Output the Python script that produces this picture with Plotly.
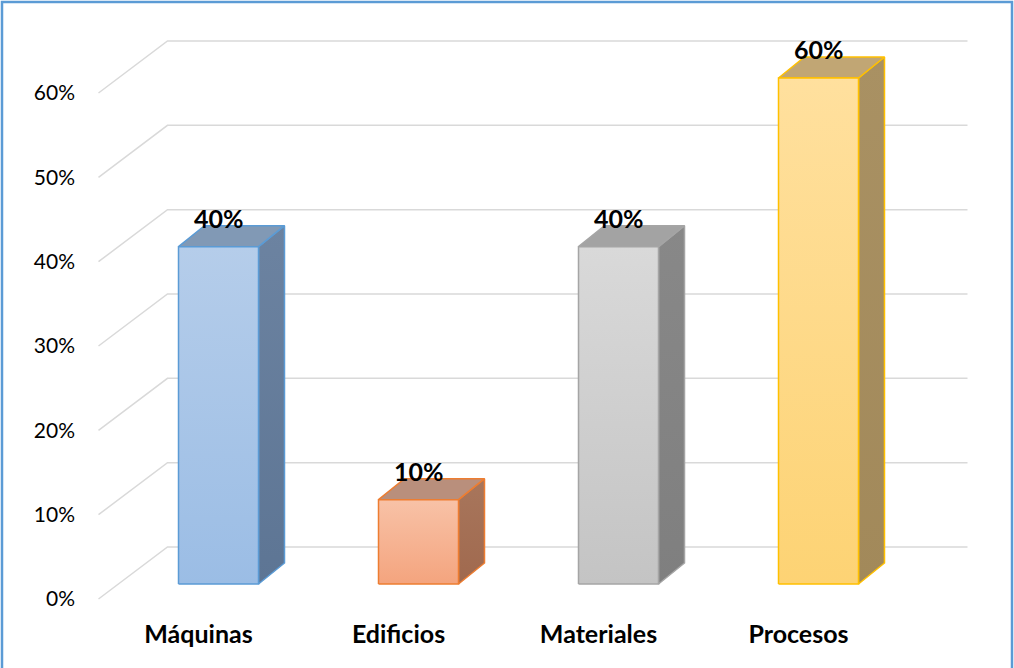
import plotly.graph_objects as go

# ---- data ----
categories = ["Máquinas", "Edificios", "Materiales", "Procesos"]
values = [40, 10, 40, 60]
y_ticks = [0, 10, 20, 30, 40, 50, 60]
y_tick_labels = ["0%", "10%", "20%", "30%", "40%", "50%", "60%"]

# ---- styles per series: front gradient (bottom, top), side, top, edge ----
front_bottom = ["#9bbde5", "#f4a47e", "#c4c4c4", "#fdd374"]
front_top = ["#b5cdea", "#f8c2a7", "#d9d9d9", "#ffe09e"]
side_col = ["#5d7594", "#a0694e", "#7f7f7f", "#a2895a"]
side_top = ["#6c83a1", "#a8765c", "#888888", "#a99163"]
top_col = ["#8199b5", "#b98f7c", "#a3a3a3", "#c1a674"]
edge_col = ["#5b9bd5", "#ed7d31", "#a5a5a5", "#ffc000"]

FONT = "Lato, Carlito, sans-serif"

# ---- 3D projection geometry (data units) ----
W_FIG, H_FIG = 1014, 668
M_L, M_R, M_T, M_B = 90, 14, 10, 58
PX_X = 200.0          # pixels per category
PX_Y = 8.433          # pixels per percentage point
X0_PX, Y0_PX = 198.5, 599.0   # pixel position of category 0 / 0% on the front plane

HALF_W = 0.2                          # half width of a column
FRONT_DX, FRONT_DY = 20 / PX_X, 15 / PX_Y   # column front face inside the floor
DEPTH_DX, DEPTH_DY = 26 / PX_X, 21 / PX_Y   # column depth
WALL_DX, WALL_DY = 69 / PX_X, 52 / PX_Y     # back wall offset
FLOOR_L, FLOOR_R = -0.5, 3.5

plot_w = W_FIG - M_L - M_R
plot_h = H_FIG - M_T - M_B
x_range = [(M_L - X0_PX) / PX_X, (M_L + plot_w - X0_PX) / PX_X]
y_range = [(Y0_PX - (M_T + plot_h)) / PX_Y, (Y0_PX - M_T) / PX_Y]

fig = go.Figure()

# gridlines: side wall diagonal + back wall horizontal
GRID = "#d9d9d9"
for t in y_ticks:
    fig.add_trace(go.Scatter(
        x=[FLOOR_L, FLOOR_L + WALL_DX, FLOOR_R + WALL_DX],
        y=[t, t + WALL_DY, t + WALL_DY],
        mode="lines", line=dict(color=GRID, width=1.5),
        hoverinfo="skip", showlegend=False))

# columns
for i, (cat, v) in enumerate(zip(categories, values)):
    xl = i + FRONT_DX - HALF_W
    xr = i + FRONT_DX + HALF_W
    yb = FRONT_DY
    yt = FRONT_DY + v
    edge = dict(color=edge_col[i], width=1.5)

    # side face
    fig.add_trace(go.Scatter(
        x=[xr, xr + DEPTH_DX, xr + DEPTH_DX, xr, xr],
        y=[yb, yb + DEPTH_DY, yt + DEPTH_DY, yt, yb],
        mode="lines", fill="toself", line=edge,
        fillgradient=dict(type="vertical",
                          colorscale=[[0, side_col[i]], [1, side_top[i]]]),
        hoverinfo="skip", showlegend=False))
    # top face
    fig.add_trace(go.Scatter(
        x=[xl, xl + DEPTH_DX, xr + DEPTH_DX, xr, xl],
        y=[yt, yt + DEPTH_DY, yt + DEPTH_DY, yt, yt],
        mode="lines", fill="toself", fillcolor=top_col[i], line=edge,
        hoverinfo="skip", showlegend=False))
    # front face
    fig.add_trace(go.Scatter(
        x=[xl, xr, xr, xl, xl],
        y=[yb, yb, yt, yt, yb],
        mode="lines", fill="toself", line=edge,
        fillgradient=dict(type="vertical",
                          colorscale=[[0, front_bottom[i]], [1, front_top[i]]]),
        name=cat, hovertemplate=f"{cat}: {v}%<extra></extra>",
        showlegend=False))
    # value label
    fig.add_annotation(
        x=i + FRONT_DX, y=yt + DEPTH_DY, text=f"{v}%", showarrow=False,
        yanchor="middle", yshift=8,
        font=dict(family=FONT, size=25, color="#000000", weight="bold"))

# outer frame (open at the bottom edge of the page)
fig.add_shape(
    type="rect", xref="paper", yref="paper",
    x0=(2 - M_L) / plot_w, x1=(1012 - M_L) / plot_w,
    y0=(M_T + plot_h - 675) / plot_h, y1=(M_T + plot_h - 2) / plot_h,
    line=dict(color="#5b9bd5", width=2.5), fillcolor="rgba(0,0,0,0)")

fig.update_layout(
    width=W_FIG, height=H_FIG,
    margin=dict(l=M_L, r=M_R, t=M_T, b=M_B),
    paper_bgcolor="white", plot_bgcolor="white",
    showlegend=False,
    xaxis=dict(range=x_range, tickmode="array",
               tickvals=list(range(len(categories))), ticktext=categories,
               showgrid=False, zeroline=False, showline=False, ticks="",
               ticklabelstandoff=7,
               tickfont=dict(family=FONT, size=25, color="#000000",
                             weight="bold"),
               fixedrange=True),
    yaxis=dict(range=y_range, tickmode="array", tickvals=y_ticks,
               ticktext=y_tick_labels,
               showgrid=False, zeroline=False, showline=False, ticks="",
               ticklabelstandoff=14,
               tickfont=dict(family=FONT, size=21, color="#000000"),
               fixedrange=True),
)

fig.write_html("out.html")
